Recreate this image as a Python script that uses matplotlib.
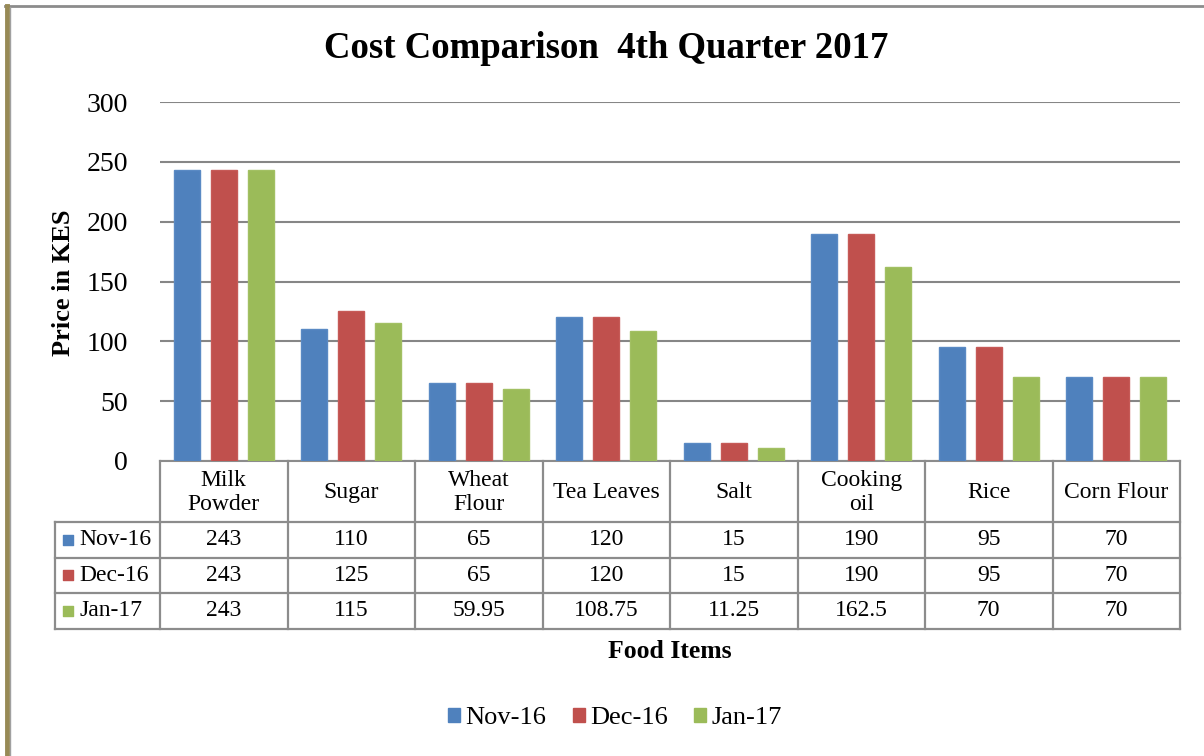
import matplotlib
matplotlib.use("Agg")
import matplotlib.pyplot as plt
from matplotlib.lines import Line2D
from matplotlib.patches import Rectangle
import numpy as np

plt.rcParams['font.family'] = ['Liberation Serif', 'DejaVu Serif']

categories = ["Milk\nPowder", "Sugar", "Wheat\nFlour", "Tea Leaves", "Salt",
              "Cooking\noil", "Rice", "Corn Flour"]
series_names = ["Nov-16", "Dec-16", "Jan-17"]
nov16 = [243, 110, 65, 120, 15, 190, 95, 70]
dec16 = [243, 125, 65, 120, 15, 190, 95, 70]
jan17 = [243, 115, 59.95, 108.75, 11.25, 162.5, 70, 70]
table_text = [["243", "110", "65", "120", "15", "190", "95", "70"],
              ["243", "125", "65", "120", "15", "190", "95", "70"],
              ["243", "115", "59.95", "108.75", "11.25", "162.5", "70", "70"]]
colors = ["#4F81BD", "#C0504D", "#9BBB59"]
edge_colors = ["#5A8AC4", "#C65A57", "#A2C063"]
yticks = [0, 50, 100, 150, 200, 250, 300]

W, H = 1204, 756
fig = plt.figure(figsize=(W / 100, H / 100), dpi=100)

ax_l, ax_r, ax_t, ax_b = 160, 1180, 102, 461
ax = fig.add_axes([ax_l / W, 1 - ax_b / H, (ax_r - ax_l) / W, (ax_b - ax_t) / H])

n = len(categories)
x = np.arange(n)
width = 0.205
offs = [-0.29, 0.0, 0.29]
for vals, c, ec, off, name in zip([nov16, dec16, jan17], colors, edge_colors, offs, series_names):
    ax.bar(x + off, vals, width, color=c, edgecolor=ec, linewidth=1.0, label=name, zorder=3)

ax.set_xlim(-0.5, n - 0.5)
ax.set_ylim(0, 300)
ax.set_yticks(yticks)
ax.set_yticklabels([str(t) for t in yticks], fontsize=20)
ax.tick_params(axis='y', length=0, pad=23)
ax.set_xticks([])
ax.grid(axis='y', color='#868686', linewidth=1.5, zorder=0)
ax.set_axisbelow(True)
for s in ['left', 'right', 'top']:
    ax.spines[s].set_visible(False)
ax.spines['bottom'].set_color('#8C8C8C')
ax.spines['bottom'].set_linewidth(1.5)

fig.text(63 / W, 1 - 283 / H, "Price in KES", rotation=90, ha='center', va='center',
         fontsize=19, fontweight='bold')

# ---- data table drawn in its own axes (x in category units) ----
col_w = (ax_r - ax_l) / n          # pixels per category
lab_w = (ax_l - 55) / col_w        # row-label column width in category units
hdr_h, row_h = 61, 35.5
tab_top, tab_bot = ax_b, ax_b + hdr_h + row_h * len(series_names)
tx0 = -0.5 - lab_w
tax = fig.add_axes([55 / W, 1 - tab_bot / H, (ax_r - 55) / W, (tab_bot - tab_top) / H])
tax.set_xlim(tx0, n - 0.5)
tax.set_ylim(tab_bot - tab_top, 0)
tax.axis('off')
lc, lw = '#8C8C8C', 1.6
for b in np.arange(n + 1) - 0.5:
    tax.plot([b, b], [0, tab_bot - tab_top], color=lc, lw=lw, clip_on=False, solid_capstyle='projecting')
tax.plot([tx0, tx0], [hdr_h, tab_bot - tab_top], color=lc, lw=lw, clip_on=False, solid_capstyle='projecting')
row_lines = [hdr_h + row_h * k for k in range(len(series_names) + 1)]
for yy in row_lines:
    tax.plot([tx0, n - 0.5], [yy, yy], color=lc, lw=lw, clip_on=False, solid_capstyle='projecting')
for i, cat in enumerate(categories):
    tax.text(i, hdr_h / 2 + 1, cat, ha='center', va='center', fontsize=17, linespacing=1.2)
for r, (name, c) in enumerate(zip(series_names, colors)):
    yc = hdr_h + row_h * r + row_h / 2
    tax.scatter([tx0 + 13 / col_w], [yc], marker='s', s=62, color=c, clip_on=False)
    tax.text(tx0 + 24 / col_w, yc, name, ha='left', va='center', fontsize=17)
    for i in range(n):
        tax.text(i, yc, table_text[r][i], ha='center', va='center', fontsize=17)

fig.text((ax_l + ax_r) / 2 / W, 1 - 651 / H, "Food Items", ha='center', va='center',
         fontsize=18.5, fontweight='bold')

fig.text(606 / W, 1 - 49 / H, "Cost Comparison  4th Quarter 2017", ha='center', va='center',
         fontsize=26.5, fontweight='bold')

handles = [Rectangle((0, 0), 1, 1, color=c) for c in colors]
fig.legend(handles, series_names, loc='center', bbox_to_anchor=(615 / W, 1 - 718 / H),
           ncol=3, frameon=False, fontsize=19, handlelength=0.45, handleheight=0.45,
           handletextpad=0.2, columnspacing=1.0)

# figure border
fig.add_artist(Line2D([5 / W, 1], [1 - 6 / H, 1 - 6 / H], transform=fig.transFigure,
                      color='#8C8C8C', linewidth=2))
fig.add_artist(Line2D([6.5 / W, 6.5 / W], [0, 1 - 6 / H], transform=fig.transFigure,
                      color='#978A56', linewidth=3.5))
fig.add_artist(Line2D([9.5 / W, 9.5 / W], [0, 1 - 7 / H], transform=fig.transFigure,
                      color='#A0A0A0', linewidth=1))

fig.savefig("out.png", dpi=100)
